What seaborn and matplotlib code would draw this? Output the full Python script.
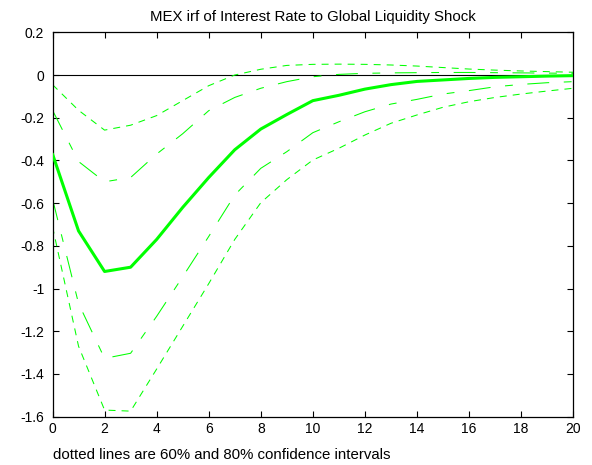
import matplotlib
matplotlib.use("Agg")
import matplotlib.pyplot as plt
import seaborn as sns
import numpy as np
import pandas as pd

horizon = list(range(21))
irf = [-0.37, -0.73, -0.92, -0.90, -0.77, -0.62, -0.48, -0.35, -0.253, -0.185, -0.12,
       -0.095, -0.066, -0.045, -0.03, -0.023, -0.016, -0.011, -0.008, -0.005, -0.003]
upper80 = [-0.045, -0.165, -0.258, -0.235, -0.19, -0.12, -0.05, 0.0, 0.027, 0.045, 0.05,
           0.051, 0.05, 0.047, 0.042, 0.035, 0.028, 0.023, 0.019, 0.016, 0.013]
upper60 = [-0.165, -0.405, -0.50, -0.48, -0.37, -0.275, -0.167, -0.105, -0.062, -0.031, -0.008,
           0.003, 0.008, 0.01, 0.011, 0.012, 0.012, 0.011, 0.01, 0.009, 0.008]
lower60 = [-0.58, -1.07, -1.327, -1.303, -1.13, -0.945, -0.756, -0.562, -0.437, -0.359, -0.27,
           -0.219, -0.172, -0.136, -0.114, -0.089, -0.073, -0.055, -0.044, -0.036, -0.031]
lower80 = [-0.71, -1.27, -1.569, -1.574, -1.377, -1.177, -0.977, -0.77, -0.598, -0.49, -0.398,
           -0.343, -0.281, -0.226, -0.187, -0.151, -0.125, -0.105, -0.089, -0.075, -0.062]

xticks = list(range(0, 21, 2))
yticks = [0.2, 0, -0.2, -0.4, -0.6, -0.8, -1, -1.2, -1.4, -1.6]
ytick_labels = ["0.2", "0", "-0.2", "-0.4", "-0.6", "-0.8", "-1", "-1.2", "-1.4", "-1.6"]

title = "MEX irf of Interest Rate to Global Liquidity Shock"
note = "dotted lines are 60% and 80% confidence intervals"

sns.set_style("white")
plt.rcParams['font.family'] = ['Liberation Sans', 'DejaVu Sans']

fig = plt.figure(figsize=(5.92, 4.65), dpi=100)
ax = fig.add_axes([0.0887, 0.1039, 0.8795, 0.8266])

green = "#00ff00"
df = pd.DataFrame({"h": horizon, "irf": irf, "u80": upper80, "u60": upper60,
                   "l60": lower60, "l80": lower80})

ax.plot([0, 20], [0, 0], color="black", lw=0.8, zorder=1)

sns.lineplot(data=df, x="h", y="u80", ax=ax, color=green, lw=0.75,
             linestyle=(0, (6.7, 5.8)), zorder=2)
sns.lineplot(data=df, x="h", y="l80", ax=ax, color=green, lw=0.75,
             linestyle=(0, (6.7, 5.8)), zorder=2)
sns.lineplot(data=df, x="h", y="u60", ax=ax, color=green, lw=0.75,
             linestyle=(0, (21, 14, 7.5, 14)), zorder=2)
sns.lineplot(data=df, x="h", y="l60", ax=ax, color=green, lw=0.75,
             linestyle=(0, (21, 14, 7.5, 14)), zorder=2)
sns.lineplot(data=df, x="h", y="irf", ax=ax, color=green, lw=2.2, zorder=3)

ax.set_xlim(0, 20)
ax.set_ylim(-1.6, 0.2)
ax.set_xticks(xticks)
ax.set_xticklabels([str(t) for t in xticks])
ax.set_yticks(yticks)
ax.set_yticklabels(ytick_labels)
ax.set_xlabel("")
ax.set_ylabel("")
ax.tick_params(direction="in", length=4, width=0.8, labelsize=10, colors="black",
               top=True, right=True, bottom=True, left=True)
ax.tick_params(axis="x", pad=4)
ax.tick_params(axis="y", pad=6)
for s in ax.spines.values():
    s.set_visible(True)
    s.set_color("black")
    s.set_linewidth(0.9)

ax.set_title(title, fontsize=10.8, color="black", pad=8)
fig.text(0.09, 0.0215, note, fontsize=10.8, color="black", ha="left", va="center")

fig.savefig("out.png", dpi=100)
